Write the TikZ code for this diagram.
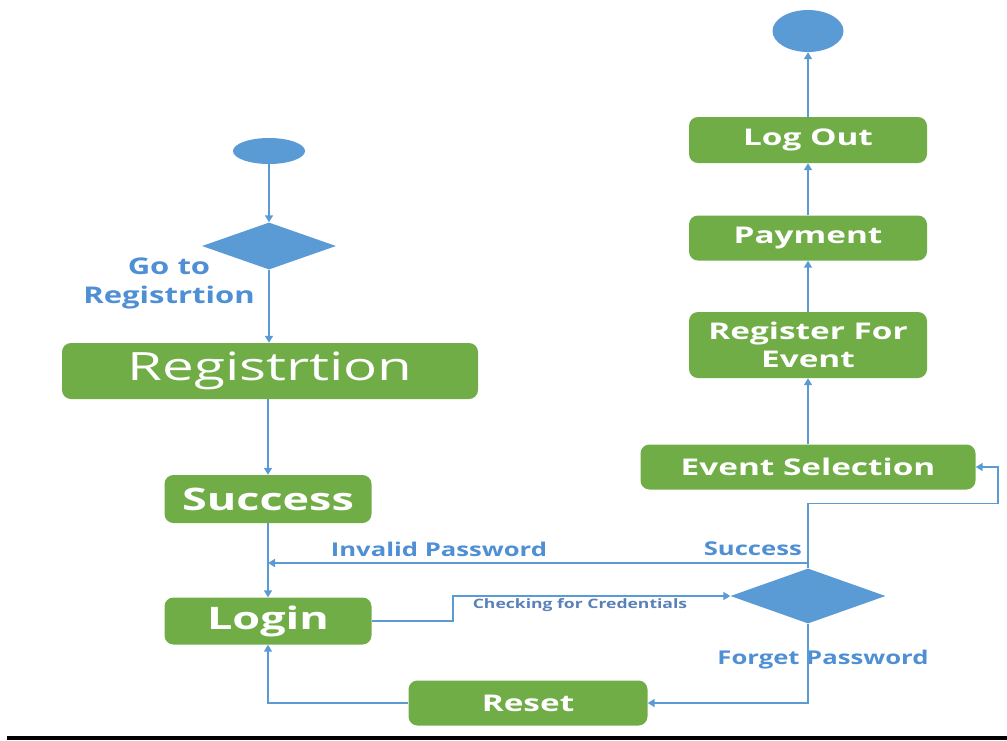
\documentclass[tikz,border=0pt]{standalone}
\usepackage{fontspec}
\setmainfont{Open Sans}
\newfontfamily\lblfont[FakeStretch=1.35]{Open Sans}
\newfontfamily\boxfont[FakeStretch=1.45]{Open Sans}
\usetikzlibrary{arrows.meta,shapes.geometric}
\definecolor{grn}{HTML}{70AD47}
\definecolor{blu}{HTML}{5B9BD5}
\definecolor{lblu}{HTML}{4F8FD3}
\definecolor{cblu}{HTML}{5A80B8}
\tikzset{
  box/.style={fill=grn, rounded corners=9pt, text=white, inner sep=0pt, align=center, font=\boxfont\bfseries\fontsize{23}{28}\selectfont},
  dec/.style={diamond, fill=blu, inner sep=0pt, aspect=2.6},
  term/.style={ellipse, fill=blu, inner sep=0pt},
  arr/.style={draw=blu, line width=1.6pt, -{Triangle[length=7pt,width=8pt]}},
  lbl/.style={text=lblu, font=\lblfont\bfseries\fontsize{19}{23}\selectfont, align=center, inner sep=0pt},
}
\begin{document}
\begin{tikzpicture}[x=1pt,y=-1pt]
\useasboundingbox (0,0) rectangle (1007,740);
% nodes
\node[term, minimum width=72pt, minimum height=26pt] (start) at (269,151) {};
\node[dec, minimum width=134pt, minimum height=47pt] (d1) at (269,246) {};
\node[box, minimum width=416pt, minimum height=56pt, font=\boxfont\fontsize{39}{46}\selectfont] (reg) at (270,371) {Registrtion};
\node[box, minimum width=207pt, minimum height=48pt, font=\boxfont\bfseries\fontsize{31}{37}\selectfont] (succ) at (268,499) {Success};
\node[box, minimum width=207pt, minimum height=47pt, font=\boxfont\bfseries\fontsize{31}{37}\selectfont] (login) at (268,621) {Login};
\node[box, minimum width=239pt, minimum height=45pt] (reset) at (528,703) {Reset};
\node[dec, minimum width=155pt, minimum height=55pt, aspect=2.8] (d2) at (808,596) {};
\node[box, minimum width=335pt, minimum height=45pt] (evsel) at (808,467) {Event Selection};
\node[box, minimum width=238pt, minimum height=66pt] (regev) at (808,345) {Register For\\Event};
\node[box, minimum width=238pt, minimum height=45pt] (pay) at (808,238) {Payment};
\node[box, minimum width=238pt, minimum height=46pt] (logout) at (808,140) {Log Out};
\node[term, minimum width=71pt, minimum height=42pt] (end) at (808,31) {};
% labels
\node[lbl, font=\lblfont\bfseries\fontsize{23}{29}\selectfont] (lgo) at (169,283) {Go to\\Registrtion};
\node[lbl] (linv) at (439,549) {Invalid Password};
\node[lbl, anchor=east] (lsuc) at (802,549) {Success};
\node[lbl] (lfor) at (823,660) {Forget Password};
\node[text=cblu, font=\lblfont\bfseries\fontsize{13}{16}\selectfont, inner sep=0pt] (lchk) at (580,605) {Checking for Credentials};
% connectors
\draw[arr] (start.south) -- (d1.north);
\draw[arr] (d1.south) -- (d1.south |- reg.north);
\draw[arr] (reg.south -| succ.north) -- (succ.north);
\draw[arr] (succ.south) -- (login.north);
\draw[arr] (login.east) -- ++(81,0) |- (d2.west);
\draw[arr] (d2.north) -- ++(0,-65) -- ++(190,0) |- (evsel.east);
\coordinate (ip) at (808,563);
\draw[arr] (ip) -- (ip -| succ.south);
\draw[arr] (d2.south) |- (reset.east);
\draw[arr] (reset.west) -| (login.south);
\draw[arr] (evsel.north) -- (regev.south);
\draw[arr] (regev.north) -- (pay.south);
\draw[arr] (pay.north) -- (logout.south);
\draw[arr] (logout.north) -- (end.south);
% bottom rule
\fill[black] (7,736) rectangle (1007,740);
\end{tikzpicture}
\end{document}
